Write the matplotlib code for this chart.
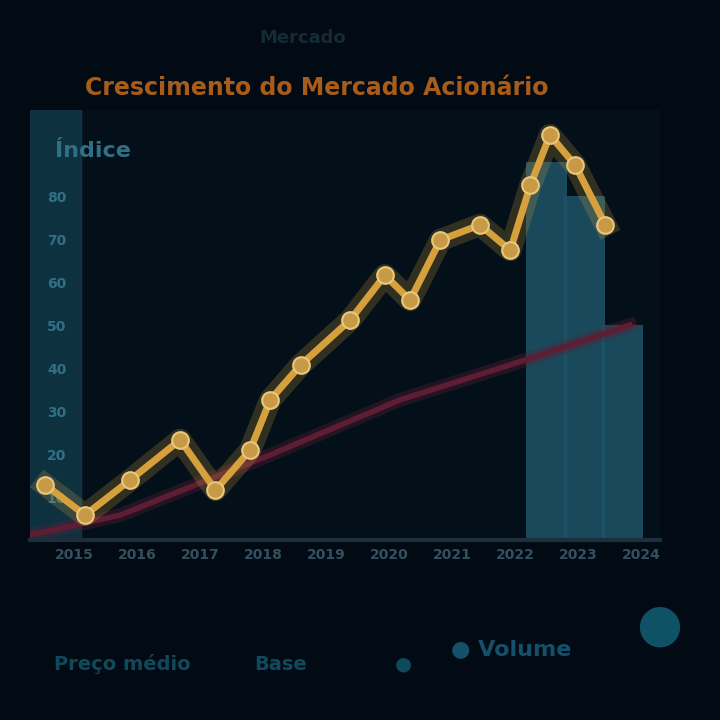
import numpy as np
import matplotlib.pyplot as plt

# Dados (escala 0-100)
x_preco = [2.4, 8.7, 15.9, 23.8, 29.4, 34.9, 38.1, 42.9, 50.8, 56.3, 60.3,
           65.1, 71.4, 76.2, 79.4, 82.5, 86.5, 91.3]
y_preco = [12.8, 5.8, 14.0, 23.3, 11.6, 20.9, 32.6, 40.7, 51.2, 61.6, 55.8,
           69.8, 73.3, 67.4, 82.6, 94.2, 87.2, 73.3]

x_base = [0, 14.3, 38.1, 58.7, 81.0, 95.2]
y_base = [1.2, 5.8, 19.8, 32.6, 43.0, 50.0]

x_vol = [82, 88, 94]
y_vol = [88, 80, 50]

anos = ['2015', '2016', '2017', '2018', '2019', '2020', '2021', '2022', '2023', '2024']
pos_anos = [7, 17, 27, 37, 47, 57, 67, 77, 87, 97]
ticks_y = [10, 20, 30, 40, 50, 60, 70, 80]

fundo = '#020b14'
amarelo = '#d6a13c'
vinho = '#5e1d33'
teal = '#1d5467'

fig = plt.figure(figsize=(7.2, 7.2), dpi=100, facecolor=fundo)
ax = fig.add_axes([0.042, 0.25, 0.875, 0.597])
ax.set_facecolor('#031019')

# coluna do eixo y (lado esquerdo)
ax.axvspan(0, 8, color='#123a4a', alpha=0.8, zorder=0)

# barras de volume (lado direito)
ax.bar(x_vol, y_vol, width=6.5, color=teal, alpha=0.85, zorder=1)

# linha de base
ax.plot(x_base, y_base, color=vinho, lw=10, alpha=0.35, zorder=2)
ax.plot(x_base, y_base, color=vinho, lw=4, zorder=3)

# linha principal com brilho
ax.plot(x_preco, y_preco, color=amarelo, lw=16, alpha=0.22, zorder=4)
ax.plot(x_preco, y_preco, color=amarelo, lw=5, zorder=5,
        marker='o', ms=12, mfc='#c99a45', mec='#e8c77e', mew=1.5)

ax.set_xlim(0, 100)
ax.set_ylim(0, 100)
ax.set_xticks(pos_anos)
ax.set_xticklabels(anos, color='#34505e', fontsize=10, fontweight='bold')
ax.set_yticks(ticks_y)
ax.set_yticklabels([f'{v}' for v in ticks_y], color='#2f7088', fontsize=10,
                   fontweight='bold', ha='left')
ax.tick_params(axis='x', length=0, pad=6)
ax.tick_params(axis='y', length=0, pad=-12)
for lado in ['top', 'right', 'left']:
    ax.spines[lado].set_visible(False)
ax.spines['bottom'].set_color('#1c2f3b')
ax.spines['bottom'].set_linewidth(3)

ax.text(4, 89, 'Índice', color='#2f6f88', fontsize=16, fontweight='bold')

fig.text(0.42, 0.94, 'Mercado', color='#142a36', fontsize=13,
         fontweight='bold', ha='center')
fig.text(0.44, 0.868, 'Crescimento do Mercado Acionário', color='#a85c1a',
         fontsize=17, fontweight='bold', ha='center')

# legenda inferior
fig.text(0.17, 0.07, 'Preço médio', color='#0e4a5c', fontsize=14,
         fontweight='bold', ha='center')
fig.text(0.39, 0.07, 'Base', color='#0e4a5c', fontsize=14,
         fontweight='bold', ha='center')
fig.text(0.56, 0.07, '●', color='#0e4a5c', fontsize=14, ha='center')
fig.text(0.71, 0.09, '● Volume', color='#15506a', fontsize=16,
         fontweight='bold', ha='center')
fig.text(0.915, 0.11, '●', color='#0f5266', fontsize=38, ha='center')

fig.savefig('out.png', dpi=100, facecolor=fundo)
